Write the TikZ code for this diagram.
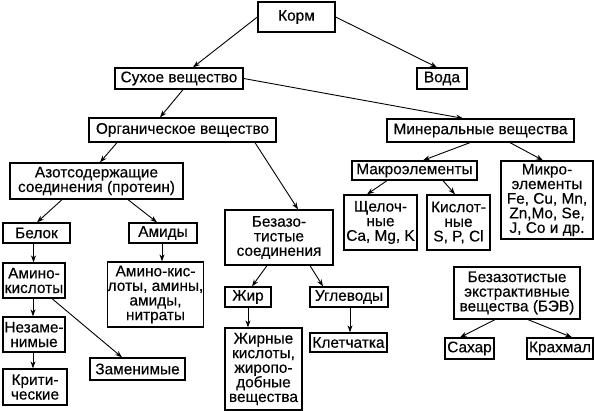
\documentclass[tikz,border=0pt]{standalone}
\usepackage{fontspec}
\setmainfont{Liberation Sans}
\newfontfamily\boxfont{Liberation Sans}[FakeBold=0.3]
\usetikzlibrary{arrows.meta}
\begin{document}
\begin{tikzpicture}[x=1pt,y=-1pt,
  box/.style={draw=black, line width=1.3pt, fill=white, inner sep=0pt, align=center,
    font=\boxfont\fontsize{15.4}{14.6}\selectfont},
  arr/.style={line width=0.9pt, -{Stealth[length=7pt,width=5pt]}}]
\useasboundingbox (0,0) rectangle (595,411);
\newcommand{\bx}[6]{\node[box, minimum width=#4pt, minimum height=#5pt] (#1) at (#2,#3) {#6};}
\bx{korm}{296.5}{17}{77}{30}{Корм}
\bx{sukh}{179}{78.5}{128}{21}{Сухое вещество}
\bx{voda}{442}{78.5}{50}{21}{Вода}
\bx{org}{182.5}{130}{187}{24}{Органическое вещество}
\bx{min}{480.5}{130.5}{187}{23}{Минеральные вещества}
\bx{azot}{96.5}{181}{173}{36}{Азотсодержащие\\соединения (протеин)}
\bx{makro}{414.5}{170.5}{125}{19}{Макроэлементы}
\bx{mikro}{547}{200}{92}{78}{Микро-\\элементы\\Fe, Cu, Mn,\\Zn,Mo, Se,\\J, Co и др.}
\bx{shch}{380.5}{222.5}{73}{55}{Щелоч-\\ные\\Ca, Mg, K}
\bx{kisl}{458.5}{222.5}{63}{55}{Кислот-\\ные\\S, P, Cl}
\bx{bezaz}{279}{237.5}{108}{55}{Безазо-\\тистые\\соединения}
\bx{belok}{36.5}{233}{67}{20}{Белок}
\bx{amidy}{163}{233}{68}{20}{Амиды}
\bx{amino}{34}{280.5}{62}{35}{Амино-\\кислоты}
\bx{aminokis}{155.5}{294.5}{95}{65}{Амино-кис-\\лоты, амины,\\амиды,\\нитраты}
\bx{nezam}{34}{334.5}{62}{35}{Незаме-\\нимые}
\bx{krit}{35}{387}{64}{36}{Крити-\\ческие}
\bx{zamen}{137.5}{369}{95}{22}{Заменимые}
\bx{zhir}{248}{297}{46}{20}{Жир}
\bx{uglev}{349}{297}{78}{20}{Углеводы}
\bx{zhirnye}{263.5}{369}{77}{82}{Жирные\\кислоты,\\жиропо-\\добные\\вещества}
\bx{kletch}{348.5}{342.5}{77}{19}{Клетчатка}
\bx{bev}{517}{293}{126}{52}{Безазотистые\\экстрактивные\\вещества (БЭВ)}
\bx{sakhar}{469.5}{348.5}{49}{21}{Сахар}
\bx{krakhmal}{560}{348.5}{66}{21}{Крахмал}
% connectors
\draw[arr] (korm.west) -- ([xshift=14pt]sukh.north);
\draw[arr] (korm.east) -- ([xshift=-5pt]voda.north);
\draw[arr] ([xshift=4pt]sukh.south) -- ([xshift=-22.5pt]org.north);
\draw[arr] (sukh.east) -- ([xshift=-17.5pt]min.north);
\draw[arr] ([xshift=-65.5pt]org.south) -- ([xshift=3.5pt]azot.north);
\draw[arr] ([xshift=72.5pt]org.south) -- ([xshift=19pt]bezaz.north);
\draw[arr] ([xshift=-34.5pt]azot.south) -- ([xshift=0.5pt]belok.north);
\draw[arr] ([xshift=31.5pt]azot.south) -- ([xshift=-6pt]amidy.north);
\draw[arr] ([xshift=-3pt]belok.south) -- ([xshift=-3pt]belok.south |- amino.north);
\draw[arr] ([xshift=-1pt]amidy.south) -- ([xshift=-1pt]amidy.south |- aminokis.north);
\draw[arr] ([xshift=-1pt]amino.south) -- ([xshift=-1pt]nezam.north);
\draw[arr] ([xshift=18pt]amino.south) -- ([xshift=-15.5pt]zamen.north);
\draw[arr] ([xshift=-1pt]nezam.south) -- ([xshift=-2pt]krit.north);
\draw[arr] ([xshift=-10.5pt]min.south) -- ([xshift=8.5pt]makro.north);
\draw[arr] ([xshift=29.5pt]min.south) -- ([xshift=-4pt]mikro.north);
\draw[arr] ([xshift=-27.5pt]makro.south) -- ([xshift=-13.5pt]shch.north);
\draw[arr] ([xshift=28.5pt]makro.south) -- ([xshift=-3.5pt]kisl.north);
\draw[arr] ([xshift=-12pt]bezaz.south) -- ([xshift=4pt]zhir.north);
\draw[arr] ([xshift=31pt]bezaz.south) -- ([xshift=-26pt]uglev.north);
\draw[arr] (zhir.south) -- (zhir.south |- zhirnye.north);
\draw[arr] ([xshift=1pt]uglev.south) -- ([xshift=1pt]uglev.south |- kletch.north);
\draw[arr] ([xshift=-22pt]bev.south) -- ([xshift=-9.5pt]sakhar.north);
\draw[arr] ([xshift=11pt]bev.south) -- ([xshift=12pt]krakhmal.north);
\end{tikzpicture}
\end{document}
